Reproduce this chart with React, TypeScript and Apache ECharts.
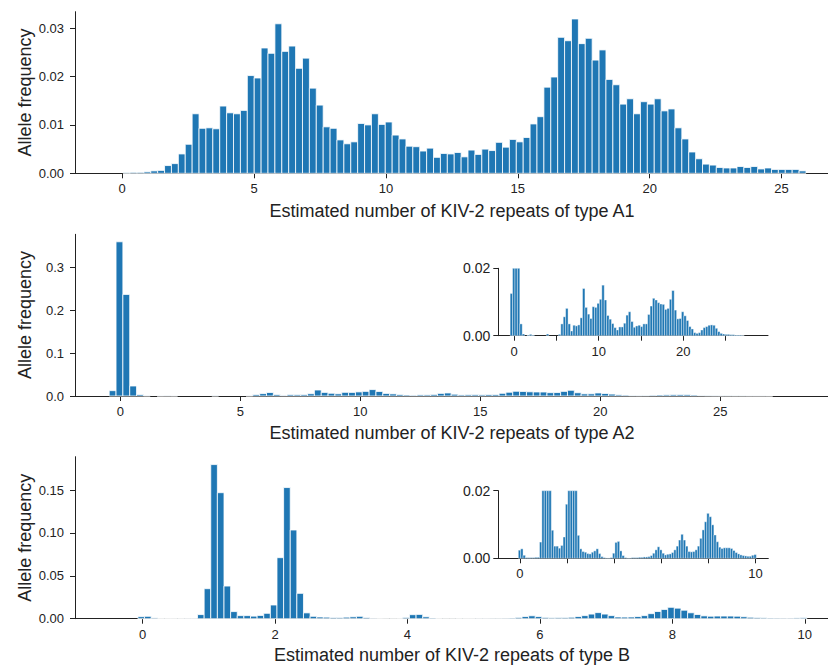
import React, { useEffect, useRef } from "react";
import * as echarts from "echarts";

// Histogram bins: each panel has a first bin edge, a bin width and one frequency per bin.
const A1_START = 0.0365;
const A1_WIDTH = 0.2615;
const A1_FREQ = [
  0.0001, 0.0002, 0.0002, 0.0003, 0.0005, 0.0006, 0.0016, 0.002, 0.004, 0.006,
  0.0123, 0.0093, 0.0094, 0.0092, 0.0139, 0.0125, 0.0123, 0.013, 0.0202, 0.0197,
  0.0259, 0.0248, 0.0309, 0.0252, 0.0263, 0.0217, 0.0238, 0.0176, 0.0141, 0.0096,
  0.0093, 0.0069, 0.0061, 0.0065, 0.0103, 0.01, 0.0123, 0.0101, 0.0106, 0.0079,
  0.0071, 0.0056, 0.0055, 0.0046, 0.0052, 0.0033, 0.0041, 0.004, 0.0043, 0.0034,
  0.0048, 0.0039, 0.005, 0.0047, 0.0064, 0.0054, 0.007, 0.0065, 0.0074, 0.0102,
  0.0117, 0.0178, 0.0199, 0.0281, 0.0274, 0.0319, 0.0268, 0.0279, 0.0234, 0.0255,
  0.0194, 0.0183, 0.0143, 0.0154, 0.0123, 0.0148, 0.0143, 0.0154, 0.0129, 0.0133,
  0.0094, 0.0071, 0.0044, 0.003, 0.0019, 0.0017, 0.0012, 0.0011, 0.0011, 0.0014,
  0.0012, 0.0014, 0.0009, 0.0011, 0.0008, 0.0008, 0.0008, 0.0008, 0.0005,
];

const A2_START = -0.46;
const A2_WIDTH = 0.285;
const A2_FREQ = [
  0.0125, 0.3605, 0.2375, 0.0234, 0.0035, 0.0005, 0, 0.0002, 0.0004, 0.0002,
  0, 0, 0, 0, 0, 0.0005, 0, 0, 0, 0,
  0.0004, 0.0035, 0.0056, 0.0081, 0.0035, 0.0014, 0.0031, 0.0029, 0.0032, 0.0053,
  0.014, 0.0084, 0.0064, 0.0051, 0.0086, 0.0084, 0.0096, 0.0108, 0.015, 0.0106,
  0.006, 0.0049, 0.0036, 0.0024, 0.0017, 0.0026, 0.0026, 0.0037, 0.0061, 0.0071,
  0.0042, 0.0025, 0.0029, 0.0031, 0.0027, 0.0035, 0.0035, 0.0063, 0.0088, 0.0111,
  0.0106, 0.0098, 0.0094, 0.0093, 0.0078, 0.0081, 0.0108, 0.0134, 0.0076, 0.005,
  0.0051, 0.0071, 0.0059, 0.0045, 0.0027, 0.002, 0.0009, 0.0007, 0.0009, 0.0017,
  0.0024, 0.0027, 0.0031, 0.0032, 0.0031, 0.0022, 0.0012, 0.0007, 0.0005, 0.0004,
  0.0004, 0.0003, 0.0003, 0.0002, 0.0002, 0.0002, 0.0001, 0, 0, 0,
];

const B_START = -0.47;
const B_WIDTH = 0.1;
const B_FREQ = [
  0, 0, 0, 0, 0.0024, 0.0028, 0.0009, 0.0002, 0.0002, 0.0002,
  0.0002, 0.0003, 0.0003, 0.0048, 0.035, 0.1798, 0.147, 0.0381, 0.0083, 0.0036,
  0.0036, 0.003, 0.0038, 0.0063, 0.016, 0.0712, 0.153, 0.1035, 0.0296, 0.0068,
  0.0028, 0.002, 0.0018, 0.0014, 0.0013, 0.0018, 0.0022, 0.0028, 0.0014, 0.0005,
  0.0002, 0.0001, 0.0001, 0.0002, 0.0015, 0.0047, 0.005, 0.0022, 0.0008, 0.0002,
  0.0001, 0.0001, 0.0002, 0.0002, 0.0002, 0.0003, 0.0003, 0.0004, 0.0004, 0.0005,
  0.0008, 0.0015, 0.0025, 0.0034, 0.0025, 0.0015, 0.001, 0.0012, 0.0013, 0.0017,
  0.0025, 0.0036, 0.0054, 0.0071, 0.0054, 0.0036, 0.002, 0.0019, 0.002, 0.0025,
  0.0036, 0.0059, 0.0084, 0.0108, 0.0133, 0.0123, 0.0099, 0.0069, 0.0049, 0.0033,
  0.0029, 0.0031, 0.0031, 0.0031, 0.0029, 0.0023, 0.0017, 0.0013, 0.001, 0.0008,
  0.0007, 0.0006, 0.0006, 0.0009, 0.0011,
];

// Axis ticks and labels
const A1_X_TICKS = [0, 5, 10, 15, 20, 25];
const A2_X_TICKS = [0, 5, 10, 15, 20, 25];
const A2_INSET_X_LABELS = [0, 10, 20];
const B_X_TICKS = [0, 2, 4, 6, 8, 10];
const B_INSET_X_LABELS = [0, 10];
const A1_Y_TICKS = [0, 0.01, 0.02, 0.03];
const A2_Y_TICKS = [0, 0.1, 0.2, 0.3];
const B_Y_TICKS = [0, 0.05, 0.1, 0.15];
const INSET_Y_TICKS = [0, 0.02];

const X_TITLES = [
  "Estimated number of KIV-2 repeats of type A1",
  "Estimated number of KIV-2 repeats of type A2",
  "Estimated number of KIV-2 repeats of type B",
];
const Y_TITLE = "Allele frequency";

const BAR_COLOR = "#1f77b4";
const INK = "#222222";
const FONT = "'Liberation Sans', Arial, Helvetica, sans-serif";

function toBins(start: number, width: number, values: number[]) {
  return values.map((v, i) => [start + i * width, start + (i + 1) * width, v]);
}

function histSeries(
  gridIndex: number,
  data: number[][],
  cap: number,
  strokeWidth: number
) {
  return {
    type: "custom",
    xAxisIndex: gridIndex,
    yAxisIndex: gridIndex,
    data,
    encode: { x: [0, 1], y: 2 },
    renderItem: (params: any, api: any) => {
      const x0 = api.value(0);
      const x1 = api.value(1);
      const v = Math.min(api.value(2), cap);
      if (v <= 0) return null;
      const p0 = api.coord([x0, 0]);
      const p1 = api.coord([x1, v]);
      return {
        type: "rect",
        shape: {
          x: p0[0],
          y: p1[1],
          width: p1[0] - p0[0],
          height: p0[1] - p1[1],
        },
        style: { fill: BAR_COLOR, stroke: "#ffffff", lineWidth: strokeWidth },
      };
    },
  };
}

function xAxis(
  gridIndex: number,
  min: number,
  max: number,
  ticks: number[],
  labels: number[],
  fontSize: number
) {
  return {
    type: "value",
    gridIndex,
    min,
    max,
    splitLine: { show: false },
    axisLine: { show: true, onZero: false, lineStyle: { color: INK, width: 1 } },
    axisTick: {
      show: true,
      inside: false,
      length: 5,
      customValues: ticks,
      lineStyle: { color: INK, width: 1 },
    },
    axisLabel: {
      customValues: labels,
      margin: 9,
      fontSize,
      color: INK,
      fontFamily: FONT,
      formatter: (v: number) => String(v),
    },
  };
}

function yAxis(
  gridIndex: number,
  max: number,
  ticks: number[],
  digits: number,
  fontSize: number,
  margin: number
) {
  return {
    type: "value",
    gridIndex,
    min: 0,
    max,
    splitLine: { show: false },
    axisLine: { show: true, onZero: false, lineStyle: { color: INK, width: 1 } },
    axisTick: {
      show: true,
      inside: false,
      length: 5,
      customValues: ticks,
      lineStyle: { color: INK, width: 1 },
    },
    axisLabel: {
      customValues: ticks,
      margin,
      fontSize,
      color: INK,
      fontFamily: FONT,
      formatter: (v: number) => v.toFixed(digits),
    },
  };
}

function titleText(text: string, x: number, y: number, rotate: boolean) {
  return {
    type: "text",
    x,
    y,
    rotation: rotate ? Math.PI / 2 : 0,
    style: {
      text,
      fill: INK,
      font: `18px ${FONT}`,
      align: "center",
      verticalAlign: "middle",
    },
  };
}

export default function App() {
  const ref = useRef<HTMLDivElement>(null);

  useEffect(() => {
    if (!ref.current) return;
    const chart = echarts.init(ref.current, undefined, { renderer: "svg" });

    const a1 = toBins(A1_START, A1_WIDTH, A1_FREQ);
    const a2 = toBins(A2_START, A2_WIDTH, A2_FREQ);
    const b = toBins(B_START, B_WIDTH, B_FREQ);

    chart.setOption({
      animation: false,
      backgroundColor: "#ffffff",
      grid: [
        { left: 75, top: 11.7, width: 753, height: 161.6 },
        { left: 75, top: 234.3, width: 753, height: 161.7 },
        { left: 498.3, top: 268.3, width: 269.7, height: 67.4 },
        { left: 75, top: 456.7, width: 753, height: 162 },
        { left: 498.3, top: 490.7, width: 270, height: 67.6 },
      ],
      xAxis: [
        xAxis(0, -1.79, 26.76, A1_X_TICKS, A1_X_TICKS, 13),
        xAxis(1, -1.885, 29.49, A2_X_TICKS, A2_X_TICKS, 13),
        xAxis(2, -1.86, 30.0, A2_X_TICKS, A2_INSET_X_LABELS, 13),
        xAxis(3, -1.02, 10.35, B_X_TICKS, B_X_TICKS, 13),
        xAxis(4, -0.92, 10.54, B_X_TICKS, B_INSET_X_LABELS, 13),
      ],
      yAxis: [
        yAxis(0, 0.0334, A1_Y_TICKS, 2, 13, 11),
        yAxis(1, 0.378, A2_Y_TICKS, 1, 13, 11),
        yAxis(2, 0.02, INSET_Y_TICKS, 2, 14, 8),
        yAxis(3, 0.189, B_Y_TICKS, 2, 13, 11),
        yAxis(4, 0.02, INSET_Y_TICKS, 2, 14, 8),
      ],
      series: [
        histSeries(0, a1, Infinity, 0.8),
        histSeries(1, a2, Infinity, 0.8),
        histSeries(2, a2, 0.02, 0.4),
        histSeries(3, b, Infinity, 0.8),
        histSeries(4, b, 0.02, 0.4),
      ],
      graphic: [
        titleText(X_TITLES[0], 452, 211, false),
        titleText(X_TITLES[1], 452, 433, false),
        titleText(X_TITLES[2], 452, 655, false),
        titleText(Y_TITLE, 25, 92.5, true),
        titleText(Y_TITLE, 25, 315, true),
        titleText(Y_TITLE, 25, 537.7, true),
      ],
    });

    return () => chart.dispose();
  }, []);

  return (
    <div
      ref={ref}
      style={{ position: "absolute", left: 0, top: 0, width: 828, height: 666 }}
    />
  );
}
